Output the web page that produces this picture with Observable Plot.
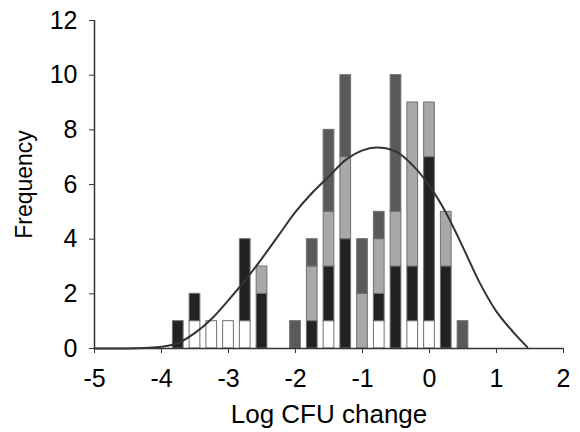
<!DOCTYPE html>
<html>
<head>
<meta charset="utf-8">
<script src="https://cdn.jsdelivr.net/npm/d3@7"></script>
<script src="https://cdn.jsdelivr.net/npm/@observablehq/plot@0.6"></script>
<style>
  body { margin: 0; background: #fff; }
  #chart { width: 580px; height: 432px; }
</style>
</head>
<body>
<div id="chart"></div>
<script>
// Bin centres (Log CFU change) and stacked counts per category
const centers = [-3.75, -3.5, -3.25, -3.0, -2.75, -2.5, -2.25, -2.0, -1.75, -1.5, -1.25, -1.0, -0.75, -0.5, -0.25, 0, 0.25, 0.5];
const white   = [0, 1, 1, 1, 1, 0, 0, 0, 0, 1, 0, 0, 1, 0, 1, 1, 0, 0];
const black   = [1, 1, 0, 0, 3, 2, 0, 0, 1, 2, 4, 0, 1, 3, 2, 6, 3, 0];
const light   = [0, 0, 0, 0, 0, 1, 0, 0, 2, 2, 3, 2, 2, 2, 6, 2, 2, 0];
const dark    = [0, 0, 0, 0, 0, 0, 0, 1, 1, 3, 3, 2, 1, 5, 0, 0, 0, 1];
const categories = ["white", "black", "light", "dark"];
const series = {white, black, light, dark};

// Fitted curve
const curveX = [-5, -4.5, -4.25, -4.0, -3.75, -3.5, -3.25, -3.0, -2.75, -2.5, -2.25, -2.0, -1.75, -1.5, -1.25, -1.0, -0.79, -0.5, -0.25, 0, 0.25, 0.5, 0.75, 1.0, 1.25, 1.46];
const curveY = [0, 0.0, 0.02, 0.06, 0.2, 0.57, 1.09, 1.77, 2.5, 3.3, 4.15, 5.0, 5.7, 6.3, 6.9, 7.25, 7.35, 7.2, 6.7, 5.95, 4.95, 3.7, 2.4, 1.35, 0.6, 0.05];

const xTicks = [-5, -4, -3, -2, -1, 0, 1, 2];
const yTicks = [0, 2, 4, 6, 8, 10, 12];

const halfWidth = 0.08;
const rows = [];
centers.forEach((c, i) => {
  let base = 0;
  for (const cat of categories) {
    const n = series[cat][i];
    if (n > 0) rows.push({c, cat, y1: base, y2: base + n});
    base += n;
  }
});
const curve = curveX.map((x, i) => ({x, y: curveY[i]}));

const colors = {white: "#ffffff", black: "#222222", light: "#a8a8a8", dark: "#5a5a5a"};
const fmt = d => String(d);

const font = "'Liberation Sans', Arial, sans-serif";
const chart = Plot.plot({
  width: 580,
  height: 432,
  marginLeft: 94,
  marginRight: 17,
  marginTop: 20,
  marginBottom: 84,
  style: {fontFamily: font, color: "#000", background: "#fff"},
  x: {domain: [-5, 2]},
  y: {domain: [0, 12]},
  marks: [
    Plot.rect(rows, {
      x1: d => d.c - halfWidth,
      x2: d => d.c + halfWidth,
      y1: "y1",
      y2: "y2",
      fill: d => colors[d.cat],
      stroke: "#707070",
      strokeWidth: 1
    }),
    Plot.line(curve, {x: "x", y: "y", curve: "catmull-rom", stroke: "#333", strokeWidth: 2}),
    Plot.ruleX([-5], {stroke: "#333", strokeWidth: 1.5}),
    Plot.ruleY([0], {stroke: "#333", strokeWidth: 1.5}),
    Plot.axisY({ticks: yTicks, tickFormat: fmt, tickSize: 5, tickPadding: 12, fontSize: 25, stroke: "#333", label: null}),
    Plot.axisY({ticks: [], fontSize: 23, label: "Frequency", labelAnchor: "center", labelOffset: 79, labelArrow: "none"}),
    Plot.axisX({ticks: xTicks, tickFormat: fmt, tickSize: 5, tickPadding: 16, fontSize: 25, stroke: "#333", label: null}),
    Plot.axisX({ticks: [], fontSize: 26, label: "Log CFU change", labelAnchor: "center", labelOffset: 74, labelArrow: "none"})
  ]
});
document.getElementById("chart").appendChild(chart);
</script>
</body>
</html>
